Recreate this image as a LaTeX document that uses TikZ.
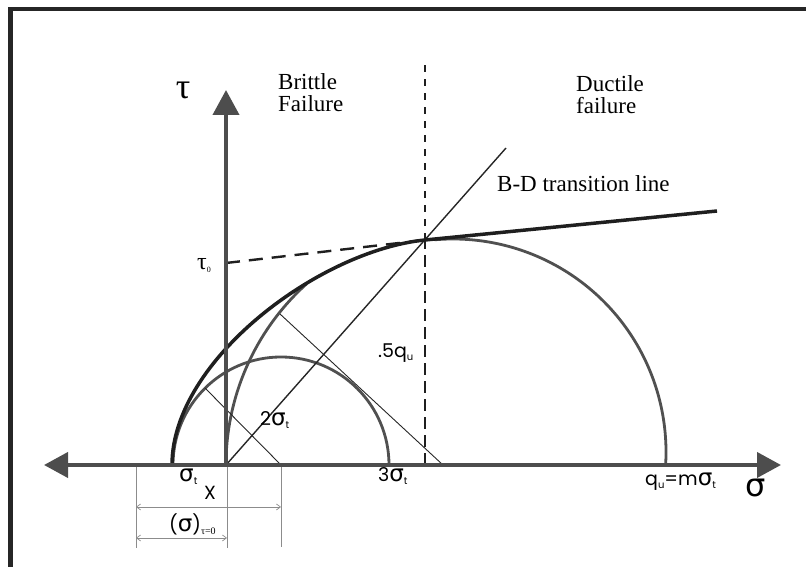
\documentclass[tikz,border=0pt]{standalone}
\usepackage{fontspec}
\setmainfont{Liberation Serif}
\newfontfamily\labfont{Poppins}
\newfontfamily\gkfont{DejaVu Sans}
\usetikzlibrary{arrows.meta}
\definecolor{axgray}{HTML}{4D4D4D}
\definecolor{cgray}{HTML}{505050}
\definecolor{envblack}{HTML}{1F1F1F}
\definecolor{framec}{HTML}{262626}
\newcommand\sgm{{\gkfont\fontsize{23}{23}\selectfont σ}}
\newcommand\lsub[1]{\raisebox{-3pt}{\fontsize{10}{10}\selectfont #1}}
\begin{document}
\begin{tikzpicture}[x=1pt,y=1pt,
  axis/.style={line width=4pt, draw=axgray},
  mohr/.style={line width=2.8pt, draw=cgray},
  env/.style={line width=3.5pt, draw=envblack},
  thinl/.style={line width=1pt, draw=black!85},
  dimline/.style={line width=0.7pt, draw=black!45},
  dimarrow/.style={dimline, {Straight Barb[length=4pt,width=6pt]}-{Straight Barb[length=4pt,width=6pt]}},
  lab/.style={font=\labfont\fontsize{19}{19}\selectfont, inner sep=0pt, anchor=base west},
  serif/.style={font=\fontsize{23}{22}\selectfont, inner sep=0pt}
]
\useasboundingbox (0,0) rectangle (806,567);
% frame
\coordinate (fb) at (10.5,-5);
\coordinate (fc) at (10.5,558);
\coordinate (fr) at (812,558);
\draw[line width=4.5pt, draw=framec] (fb) -- (fc) -- (fr);

% key points
\coordinate (O) at (226,102);
\coordinate (sL) at (44,102);
\coordinate (sR) at (781,102);
\coordinate (tT) at (226,477);
\coordinate (S) at (172,102);
\coordinate (C1L) at (173,102);
\coordinate (C1) at (281,102);
\coordinate (P) at (425,327);
\coordinate (E) at (717,356);
\coordinate (T0) at (226,304);
\coordinate (Vt) at (425,502);
\coordinate (Vb) at (425,102);
\coordinate (BD) at (506,419);
\coordinate (R2a) at (280,253);
\coordinate (R2b) at (443,102);
\coordinate (R1a) at (205,179);
\coordinate (C3s) at (434.44,327.19);

% Mohr circles
\draw[mohr] (C1L) arc[start angle=180,end angle=0,radius=108];
\draw[mohr] (O) arc[start angle=180,end angle=132,radius=244];
\draw[mohr] (C3s) arc[start angle=95,end angle=-3,radius=213];

% radius lines
\draw[thinl, line width=0.9pt] (R1a) -- (C1);
\draw[thinl, line width=0.9pt] (R2a) -- (R2b);

% B-D transition line
\draw[thinl, line width=1.4pt] (O) -- (BD);

% dashed lines
\draw[line width=2.4pt, draw=envblack, dash pattern=on 14pt off 9pt] (T0) -- (P);
\draw[line width=1.3pt, draw=envblack, dash pattern=on 7pt off 7pt] (P) -- (Vt);
\draw[line width=2.4pt, draw=envblack, dash pattern=on 12pt off 6pt] (Vb) -- (P);

% envelope
\draw[env] (S) .. controls (172,207) and (320,316.6) .. (P) -- (E);

% dimension lines
\coordinate (d1t) at (136,102); \coordinate (d1b) at (136,19);
\coordinate (d2t) at (227,102); \coordinate (d2b) at (227,19);
\coordinate (d3t) at (281,102); \coordinate (d3b) at (281,20);
\draw[dimline] (d1t) -- (d1b);
\draw[dimline] (d2t) -- (d2b);
\draw[dimline] (d3t) -- (d3b);
\coordinate (xa) at (136,60); \coordinate (xb) at (281,60);
\coordinate (sa) at (136,29); \coordinate (sb) at (227,29);
\draw[dimarrow] (xa) -- (xb);
\draw[dimarrow] (sa) -- (sb);

% axes
\draw[axis, {Triangle[length=24pt,width=25pt]}-{Triangle[length=24pt,width=25pt]}] (sL) -- (sR);
\draw[axis, -{Triangle[length=25pt,width=26pt]}] (O) -- (tT);

% labels
\node[font=\fontsize{36}{36}\selectfont, inner sep=0pt] (tau) at (183,477) {τ};
\node[serif, anchor=north west, align=left] (brit) at (278,494) {Brittle\\Failure};
\node[serif, anchor=north west, align=left] (duct) at (576,492) {Ductile\\failure};
\node[serif, anchor=base west] (bd) at (497,375) {B-D transition line};
\node[font=\fontsize{24}{24}\selectfont, anchor=base west, inner sep=0pt] (t0) at (197,297) {τ\lsub{\fontsize{8}{8}\selectfont 0}};

\node[lab] (st) at (179,85) {\sgm\lsub{t}};
\node[lab] (xl) at (204,67) {X};
\node[lab] (s0) at (169,35) {(\sgm)\lsub{\rmfamily τ=0}};
\node[lab] (s2) at (260,141) {2\sgm\lsub{t}};
\node[lab] (s3) at (378,85) {3\sgm\lsub{t}};
\node[lab] (hq) at (378,209) {.5q\lsub{u}};
\node[lab] (qu) at (645,81) {q\lsub{u}=m\sgm\lsub{t}};
\node[lab, font=\gkfont\fontsize{32}{32}\selectfont] (sig) at (745,70) {σ};
\end{tikzpicture}
\end{document}
